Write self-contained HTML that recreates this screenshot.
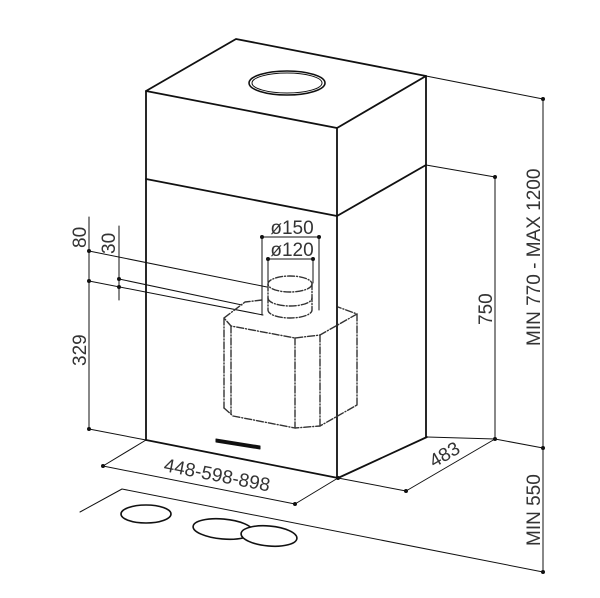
<!DOCTYPE html>
<html><head><meta charset="utf-8"><style>
html,body{margin:0;padding:0;background:#fff;}
svg{display:block;}
text{font-family:"Liberation Sans",sans-serif;fill:#333;font-size:19px;}
</style></head><body>
<svg width="600" height="598" viewBox="0 0 600 598" xmlns="http://www.w3.org/2000/svg">
<g stroke="#111" fill="none" stroke-linecap="round" stroke-linejoin="round">
<g stroke-width="1.8">
<polyline points="146,440 146,91 236,39 426,76 426,437"/>
<polyline points="146,91 337,128 426,76"/>
<line x1="337" y1="128" x2="337" y2="478"/>
<polyline points="146,179 337,216 426,165"/>
<polyline points="146,440 338,478 427,437"/>
</g>
<ellipse cx="287" cy="83" rx="38" ry="12" stroke-width="1.6"/>
<ellipse cx="287" cy="83" rx="35" ry="10" stroke-width="1"/>
<polygon points="216,439 260,446 260,449 216,442" fill="#111" stroke-width="1"/>
<g stroke-width="1">
<polyline points="426,76 543,99 543,572"/>
<polyline points="426,165 495,177 495,439"/>
<polyline points="427,437 495,439 543,448"/>
<polyline points="495,439 406,491 338,478"/>
<polyline points="146,440 103,466 295,504 338,478"/>
<polyline points="80,512 122,489 543,572"/>
<line x1="89" y1="217" x2="89" y2="429"/>
<line x1="89" y1="429" x2="146" y2="440"/>
<line x1="89" y1="251" x2="267" y2="287"/>
<line x1="89" y1="281" x2="263" y2="315"/>
<line x1="119" y1="226" x2="119" y2="300"/>
<line x1="119" y1="279" x2="242" y2="305"/>
<polyline points="262,315 262,237 319,237 319,310"/>
<polyline points="268,283 268,259 313,259 313,283"/>
</g>
<g fill="#111" stroke="none">
<circle cx="543" cy="99" r="2"/><circle cx="543" cy="448" r="2"/><circle cx="543" cy="572" r="2"/>
<circle cx="495" cy="177" r="2"/><circle cx="495" cy="439" r="2"/><circle cx="406" cy="491" r="2"/>
<circle cx="103" cy="466" r="2"/><circle cx="295" cy="504" r="2"/><circle cx="338" cy="478" r="2"/>
<circle cx="89" cy="251" r="2"/><circle cx="89" cy="281" r="2"/><circle cx="89" cy="429" r="2"/>
<circle cx="119" cy="279" r="2"/><circle cx="119" cy="287" r="2"/>
<circle cx="262" cy="237" r="2"/><circle cx="319" cy="237" r="2"/>
<circle cx="268" cy="259" r="2"/><circle cx="313" cy="259" r="2"/>
</g>
<g stroke-width="1.6">
<ellipse cx="146" cy="514" rx="25" ry="9"/>
<ellipse cx="223" cy="529" rx="30" ry="10" transform="rotate(5 223 529)"/>
<ellipse cx="269" cy="536" rx="28" ry="10" fill="#fff" transform="rotate(5 269 536)"/>
</g>
<g stroke-width="1.4" stroke="#333" stroke-dasharray="7,2,1,2">
<ellipse cx="290" cy="284" rx="22" ry="8"/>
<path d="M268,284 V310 A22,8 0 0 0 312,310 V284"/>
<path d="M268,298 A22,8 0 0 0 312,298"/>
<polyline points="262,300 245,302 224,318 231,326 295,338 320,335 357,314 338,307"/>
<line x1="224" y1="318" x2="224" y2="408"/>
<line x1="231" y1="326" x2="231" y2="414"/>
<line x1="295" y1="338" x2="295" y2="428"/>
<line x1="320" y1="335" x2="320" y2="426"/>
<line x1="357" y1="314" x2="357" y2="405"/>
<polyline points="224,408 233,416 295,428 320,426 357,405"/>
</g>
</g>
<text x="292" y="234" text-anchor="middle">ø150</text>
<text x="292" y="256" text-anchor="middle">ø120</text>
<text transform="translate(86,248) rotate(-90)">80</text>
<text transform="translate(115,254) rotate(-90)">30</text>
<text transform="translate(86,366) rotate(-90)">329</text>
<text transform="translate(492,325) rotate(-90)">750</text>
<text transform="translate(540,346) rotate(-90)">MIN 770 - MAX 1200</text>
<text transform="translate(540,546) rotate(-90)">MIN 550</text>
<text transform="translate(163,471) rotate(11)">448-598-898</text>
<text transform="translate(434,468) rotate(-30)">483</text>
</svg>
</body></html>
